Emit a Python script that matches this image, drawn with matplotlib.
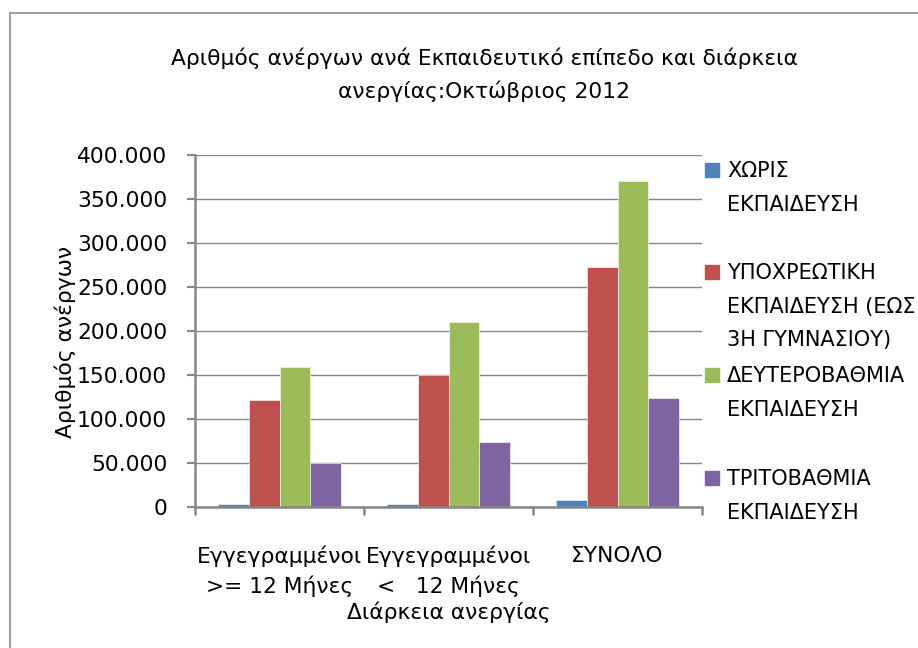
import matplotlib.pyplot as plt
from matplotlib.patches import Rectangle
from matplotlib.ticker import FuncFormatter, MultipleLocator
import numpy as np

plt.rcParams['font.family'] = ['DejaVu Sans']
FS = 15.7

categories = ["Εγγεγραμμένοι\n>= 12 Μήνες", "Εγγεγραμμένοι\n<   12 Μήνες", "ΣΥΝΟΛΟ"]
series_names = [
    "ΧΩΡΙΣ\nΕΚΠΑΙΔΕΥΣΗ",
    "ΥΠΟΧΡΕΩΤΙΚΗ\nΕΚΠΑΙΔΕΥΣΗ (ΕΩΣ\n3Η ΓΥΜΝΑΣΙΟΥ)",
    "ΔΕΥΤΕΡΟΒΑΘΜΙΑ\nΕΚΠΑΙΔΕΥΣΗ",
    "ΤΡΙΤΟΒΑΘΜΙΑ\nΕΚΠΑΙΔΕΥΣΗ",
]
no_education = [3000, 3000, 8000]
compulsory = [121500, 150500, 273000]
secondary = [159000, 210000, 370000]
tertiary = [49700, 73600, 124400]
colors = ["#4F81BD", "#C0504D", "#9BBB59", "#8064A2"]

W, H = 918, 648
fig = plt.figure(figsize=(W / 100, H / 100), dpi=100)
ax = fig.add_axes([195 / W, (H - 507) / H, 507 / W, 352 / H])

x = np.arange(len(categories))
width = 1 / 5.5
for i, vals in enumerate([no_education, compulsory, secondary, tertiary]):
    ax.bar(x + (i - 1.5) * width, vals, width, color=colors[i],
           edgecolor="white", linewidth=0.4, zorder=3)

grid_c = "#868686"
ax.set_xlim(-0.5, 2.5)
ax.set_ylim(0, 400000)
ax.yaxis.set_major_locator(MultipleLocator(50000))
ax.yaxis.set_major_formatter(FuncFormatter(lambda v, p: f"{int(v):,}".replace(",", ".")))
ax.grid(axis="y", color=grid_c, linewidth=1.0, zorder=0)
for s in ["top", "right"]:
    ax.spines[s].set_visible(False)
for s in ["left", "bottom"]:
    ax.spines[s].set_color(grid_c)
    ax.spines[s].set_linewidth(1.8)
    ax.spines[s].set_zorder(4)

ax.set_xticks(x)
ax.set_xticklabels(categories, fontsize=FS, linespacing=1.45)
ax.set_xticks(np.arange(-0.5, 3, 1), minor=True)
ax.tick_params(axis="x", which="major", length=0, pad=28)
ax.tick_params(axis="x", which="minor", length=6, width=1.8, color=grid_c, direction="out")
ax.tick_params(axis="y", length=6, width=1.5, color=grid_c, labelsize=FS, pad=14)

ax.set_xlabel("Διάρκεια ανεργίας", fontsize=FS)
ax.xaxis.set_label_coords(0.5, -(612 - 507) / 352)
ax.xaxis.label.set_va("center")
ax.set_ylabel("Αριθμός ανέργων", fontsize=FS)
ax.yaxis.set_label_coords((65 - 195) / 507, (507 - 342) / 352)
ax.yaxis.label.set_va("center")

fig.text(484 / W, 1 - 58 / H, "Αριθμός ανέργων ανά Εκπαιδευτικό επίπεδο και διάρκεια",
         ha="center", va="center", fontsize=FS)
fig.text(484 / W, 1 - 91 / H, "ανεργίας:Οκτώβριος 2012",
         ha="center", va="center", fontsize=FS)

# legend
first_rows = [170, 272, 375, 478]
for name, c, y0 in zip(series_names, colors, first_rows):
    fig.patches.append(Rectangle((705 / W, 1 - (y0 + 7) / H), 14 / W, 14 / H,
                                 transform=fig.transFigure, color=c))
    fig.text(727 / W, 1 - (y0 - 9) / H, name, ha="left", va="top",
             fontsize=15, linespacing=1.85)

# chart area border
fig.patches.append(Rectangle((10 / W, -0.1), 1.2, 1 - 13 / H + 0.1,
                             transform=fig.transFigure, fill=False,
                             edgecolor="#A0A0A0", linewidth=1.5))

fig.savefig("out.png", dpi=100)
